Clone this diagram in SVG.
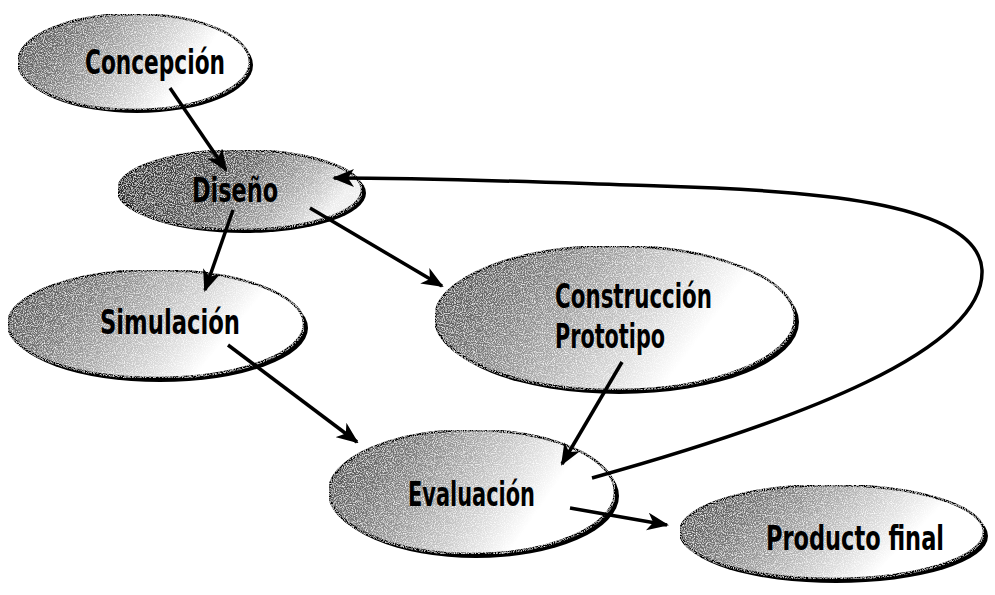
<svg xmlns="http://www.w3.org/2000/svg" width="995" height="595" viewBox="0 0 995 595">
<defs>
<linearGradient id="g" x1="0" y1="0" x2="1" y2="0.3">
<stop offset="0" stop-color="#404040"/>
<stop offset="0.3" stop-color="#777"/>
<stop offset="0.6" stop-color="#c4c4c4"/>
<stop offset="0.85" stop-color="#fff"/>
</linearGradient>
<linearGradient id="gd" x1="0" y1="0" x2="1" y2="0.3">
<stop offset="0" stop-color="#222"/>
<stop offset="0.5" stop-color="#555"/>
<stop offset="0.8" stop-color="#aaa"/>
<stop offset="1" stop-color="#eee"/>
</linearGradient>
<filter id="speck" x="0" y="0" width="1" height="1">
<feTurbulence type="fractalNoise" baseFrequency="0.9" numOctaves="2" seed="3" result="n"/>
<feColorMatrix in="n" type="matrix" values="0 0 0 0 1  0 0 0 0 1  0 0 0 0 1  0 0 0 -2.2 1.25" result="w"/>
<feComposite in="w" in2="SourceGraphic" operator="in" result="wc"/>
<feMerge><feMergeNode in="SourceGraphic"/><feMergeNode in="wc"/></feMerge>
</filter>
<marker id="ah" viewBox="0 0 22 18" refX="20" refY="9" markerWidth="22" markerHeight="18" markerUnits="userSpaceOnUse" orient="auto">
<path d="M0,0 L22,9 L0,18 L6,9 Z" fill="#000"/>
</marker>
</defs>
<style>
.sh{fill:#000}
.el{stroke:#000;stroke-width:2.5;filter:url(#speck)}
.t{font-family:"DejaVu Sans Condensed","Liberation Sans Narrow","Liberation Sans",sans-serif;font-stretch:condensed;font-weight:bold;font-size:34px;fill:#000}
.c{fill:none;stroke:#000;stroke-width:3.5}
</style>
<rect width="995" height="595" fill="#fff"/>
<g id="concepcion">
<ellipse class="sh" cx="137" cy="65" rx="116" ry="48"/>
<ellipse class="el" fill="url(#g)" cx="134" cy="62" rx="116" ry="48"/>
<text class="t" x="85" y="74" textLength="140" lengthAdjust="spacingAndGlyphs">Concepción</text>
</g>
<g id="diseno">
<ellipse class="sh" cx="244" cy="193" rx="122" ry="40"/>
<ellipse class="el" fill="url(#gd)" cx="240" cy="190" rx="122" ry="40"/>
<text class="t" x="192" y="202" textLength="86" lengthAdjust="spacingAndGlyphs">Diseño</text>
</g>
<g id="simulacion">
<ellipse class="sh" cx="160" cy="328" rx="148" ry="54"/>
<ellipse class="el" fill="url(#g)" cx="156" cy="324" rx="148" ry="54"/>
<text class="t" x="100" y="334" textLength="140" lengthAdjust="spacingAndGlyphs">Simulación</text>
</g>
<g id="construccion">
<ellipse class="sh" cx="619" cy="322" rx="180" ry="72"/>
<ellipse class="el" fill="url(#g)" cx="615" cy="318" rx="180" ry="72"/>
<text class="t" x="555" y="308" textLength="157" lengthAdjust="spacingAndGlyphs">Construcción</text>
<text class="t" x="555" y="348" textLength="110" lengthAdjust="spacingAndGlyphs">Prototipo</text>
</g>
<g id="evaluacion">
<ellipse class="sh" cx="476" cy="496" rx="143" ry="62"/>
<ellipse class="el" fill="url(#g)" cx="472" cy="492" rx="143" ry="62"/>
<text class="t" x="408" y="506" textLength="127" lengthAdjust="spacingAndGlyphs">Evaluación</text>
</g>
<g id="producto">
<ellipse class="sh" cx="836" cy="536" rx="152" ry="47"/>
<ellipse class="el" fill="url(#g)" cx="832" cy="532" rx="152" ry="47"/>
<text class="t" x="766" y="550" textLength="178" lengthAdjust="spacingAndGlyphs">Producto final</text>
</g>
<g id="connectors">
<path class="c" d="M170,88 L226,170" marker-end="url(#ah)"/>
<path class="c" d="M233,210 L205,290" marker-end="url(#ah)"/>
<path class="c" d="M310,208 L442,286" marker-end="url(#ah)"/>
<path class="c" d="M228,345 L357,442" marker-end="url(#ah)"/>
<path class="c" d="M622,362 L562,464" marker-end="url(#ah)"/>
<path class="c" d="M570,508 L667,525" marker-end="url(#ah)"/>
<path class="c" d="M592,478 C800,420 985,350 982,270 C978,200 800,190 660,186 C560,183 450,178 334,178" marker-end="url(#ah)"/>
</g>
</svg>
